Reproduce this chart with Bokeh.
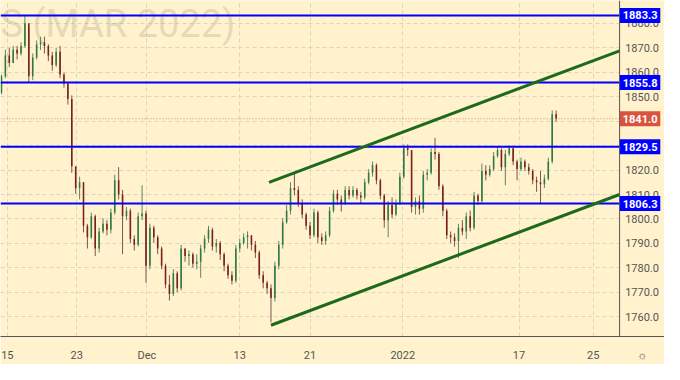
from bokeh.plotting import figure
from bokeh.models import Range1d, FixedTicker, Label, ColumnDataSource
from bokeh.core.properties import value
from bokeh.embed import file_html
from bokeh.resources import INLINE

# ---- data ----
first_open = 1851.8
close = [1858.4, 1866.9, 1863.8, 1869.2, 1867.7, 1870.8, 1880.1, 1858.4, 1866.1, 1871.5,
         1872.3, 1870.8, 1866.9, 1863.0, 1868.4, 1859.1, 1855.3, 1849.1, 1821.6, 1812.7,
         1815.0, 1797.2, 1792.5, 1801.1, 1787.9, 1794.9, 1798.0, 1795.6, 1802.6, 1815.8,
         1810.0, 1801.1, 1803.4, 1791.8, 1789.4, 1801.1, 1802.2, 1780.9, 1796.4, 1792.5,
         1787.9, 1780.9, 1773.2, 1769.3, 1777.8, 1771.6, 1787.9, 1784.8, 1785.6, 1781.7,
         1782.5, 1787.9, 1791.8, 1795.6, 1788.7, 1790.2, 1785.6, 1780.9, 1777.0, 1774.7,
         1787.9, 1790.2, 1792.5, 1793.3, 1789.4, 1786.3, 1777.0, 1773.9, 1771.6, 1767.7,
         1780.9, 1789.4, 1798.7, 1803.4, 1812.7, 1811.9, 1806.5, 1801.8, 1797.2, 1793.3,
         1802.6, 1792.5, 1791.0, 1793.3, 1803.4, 1810.3, 1808.0, 1806.5, 1811.9, 1809.6,
         1811.9, 1809.6, 1808.8, 1815.0, 1818.9, 1822.0, 1815.8, 1809.6, 1799.5, 1805.7,
         1801.8, 1806.5, 1817.3, 1828.9, 1828.2, 1804.9, 1807.3, 1804.2, 1818.1, 1818.9,
         1827.4, 1826.6, 1813.4, 1803.4, 1793.3, 1792.5, 1791.0, 1796.4, 1794.9, 1801.1,
         1796.4, 1809.6, 1807.3, 1819.6, 1818.1, 1820.4, 1825.8, 1828.2, 1821.2, 1826.6,
         1828.9, 1823.5, 1820.4, 1823.5, 1821.2, 1819.6, 1815.8, 1815.0, 1814.2, 1816.5,
         1823.5, 1842.9, 1841.0]
high = [1859.1, 1869.2, 1870.0, 1870.8, 1870.8, 1872.3, 1883.5, 1878.5, 1867.7, 1873.1,
        1874.6, 1874.6, 1871.5, 1868.4, 1870.0, 1870.8, 1859.9, 1856.1, 1850.6, 1821.2,
        1817.3, 1815.0, 1798.0, 1802.6, 1801.8, 1796.4, 1800.3, 1799.5, 1804.2, 1818.1,
        1821.2, 1811.9, 1804.9, 1804.2, 1793.3, 1802.6, 1813.8, 1803.4, 1798.0, 1797.2,
        1793.3, 1788.7, 1781.7, 1777.0, 1779.4, 1778.6, 1789.4, 1787.9, 1787.1, 1786.3,
        1785.6, 1789.4, 1793.3, 1797.2, 1796.4, 1791.8, 1791.0, 1786.3, 1781.7, 1778.6,
        1789.4, 1791.8, 1794.1, 1794.9, 1793.3, 1791.0, 1787.1, 1778.6, 1774.7, 1773.2,
        1782.5, 1791.0, 1800.3, 1805.7, 1815.0, 1818.5, 1813.4, 1808.0, 1802.6, 1798.7,
        1804.2, 1803.4, 1794.1, 1794.9, 1804.9, 1811.9, 1811.9, 1809.6, 1813.4, 1813.4,
        1813.4, 1812.7, 1811.1, 1816.5, 1820.4, 1823.5, 1822.7, 1816.5, 1810.3, 1807.3,
        1808.8, 1808.0, 1818.9, 1830.5, 1830.5, 1827.4, 1808.8, 1809.6, 1819.6, 1820.4,
        1828.9, 1833.2, 1827.4, 1814.2, 1804.2, 1794.9, 1794.1, 1798.0, 1799.5, 1802.6,
        1803.4, 1811.1, 1810.3, 1822.7, 1822.0, 1822.0, 1827.4, 1829.7, 1828.9, 1828.2,
        1830.1, 1828.9, 1824.3, 1825.1, 1824.3, 1822.7, 1820.4, 1817.3, 1819.6, 1818.1,
        1825.1, 1844.4, 1844.4]
low = [1851.0, 1857.6, 1862.2, 1863.8, 1865.3, 1866.9, 1870.0, 1856.1, 1856.8, 1865.3,
       1869.2, 1867.7, 1864.6, 1860.7, 1862.2, 1857.6, 1853.7, 1846.8, 1818.9, 1810.3,
       1808.0, 1794.5, 1787.9, 1791.8, 1784.8, 1786.3, 1794.1, 1793.3, 1794.1, 1801.8,
       1808.0, 1785.6, 1799.5, 1790.2, 1787.1, 1788.7, 1799.5, 1773.9, 1779.4, 1790.2,
       1785.6, 1779.4, 1771.6, 1766.6, 1768.5, 1770.1, 1770.8, 1782.5, 1780.9, 1780.1,
       1779.4, 1775.9, 1786.3, 1790.2, 1787.1, 1786.3, 1783.2, 1778.6, 1775.5, 1773.2,
       1773.9, 1786.3, 1789.4, 1787.9, 1787.1, 1784.0, 1775.5, 1771.6, 1769.3, 1757.7,
       1766.2, 1779.4, 1787.9, 1798.0, 1801.8, 1809.6, 1804.9, 1800.3, 1795.6, 1791.8,
       1792.5, 1790.2, 1789.4, 1789.4, 1792.5, 1802.6, 1805.7, 1803.0, 1805.7, 1808.0,
       1808.8, 1808.0, 1806.5, 1808.0, 1814.2, 1817.3, 1814.2, 1808.0, 1796.4, 1792.5,
       1800.3, 1801.1, 1805.7, 1816.5, 1825.8, 1802.6, 1801.8, 1801.8, 1802.6, 1815.8,
       1818.1, 1824.3, 1811.9, 1801.1, 1791.8, 1790.2, 1788.7, 1784.0, 1793.3, 1791.8,
       1794.9, 1795.6, 1805.7, 1806.5, 1815.8, 1817.3, 1819.6, 1825.1, 1819.6, 1813.8,
       1825.8, 1822.0, 1815.8, 1819.6, 1819.6, 1818.1, 1814.2, 1811.1, 1806.1, 1812.7,
       1815.8, 1822.7, 1839.8]

x_tick_pos = [1.5, 19.25, 37.25, 61.0, 79.0, 102.75, 132.5, 151.5]
x_tick_labels = ["15", "23", "Dec", "13", "21", "2022", "17", "25"]
y_ticks = [1760, 1770, 1780, 1790, 1800, 1810, 1820, 1830, 1840, 1850, 1860, 1870, 1880]

levels = [1883.3, 1855.8, 1829.5, 1806.3]
last_price = 1841.0
upper_x = [68.5, 158.25]
upper_y = [1815.0, 1868.8]
lower_x = [69.0, 158.25]
lower_y = [1756.5, 1810.0]
watermark = "S (MAR 2022)"

# ---- layout constants (x in bar units) ----
X0, X1 = -0.25, 169.75      # whole canvas width
AX = 158.25                 # price scale border
LAB_X = 164.0               # centre of price scale
Y0, Y1 = 1751.9, 1889.4
BG = "#FFF2CC"

# ---- derived table ----
opens = [first_open] + close[:-1]
idx = list(range(len(close)))
up = [c >= o for o, c in zip(opens, close)]
src_up = ColumnDataSource(dict(
    x=[i for i, u in zip(idx, up) if u],
    top=[max(o, c) for o, c, u in zip(opens, close, up) if u],
    bottom=[min(o, c) for o, c, u in zip(opens, close, up) if u]))
src_dn = ColumnDataSource(dict(
    x=[i for i, u in zip(idx, up) if not u],
    top=[max(o, c) for o, c, u in zip(opens, close, up) if not u],
    bottom=[min(o, c) for o, c, u in zip(opens, close, up) if not u]))
src_w = ColumnDataSource(dict(x=idx, high=high, low=low,
                              color=["#5d8468" if u else "#7d5550" for u in up]))

p = figure(width=664, height=364, output_backend="svg", toolbar_location=None,
           x_range=Range1d(X0, X1), y_range=Range1d(Y0, Y1),
           y_axis_location="right",
           min_border_left=0, min_border_top=0, min_border_right=0, min_border_bottom=24)
p.background_fill_color = BG
p.border_fill_color = BG
p.outline_line_color = None

# grids
p.ygrid.ticker = FixedTicker(ticks=y_ticks)
for g in (p.xgrid, p.ygrid):
    g.grid_line_color = "#DDD5BE"
    g.grid_line_dash = "4 3"
    g.grid_line_width = 1

# x axis (with the settings icon as last label)
gear_x = LAB_X
p.xaxis.ticker = FixedTicker(ticks=x_tick_pos + [gear_x])
ov = {k: v for k, v in zip(x_tick_pos, x_tick_labels)}
ov[gear_x] = "\u263C"
p.xaxis.major_label_overrides = ov
p.xaxis.axis_line_color = "#555555"
p.xaxis.major_tick_line_color = None
p.xaxis.minor_tick_line_color = None
p.xaxis.major_label_text_color = "#555555"
p.xaxis.major_label_text_font = "Roboto"
p.xaxis.major_label_text_font_size = "11px"
p.xaxis.major_label_standoff = 6
p.yaxis.visible = False

# watermark
p.add_layout(Label(x=0, y=313, x_units="screen", y_units="screen", text=watermark,
                   text_align="left", text_baseline="alphabetic", text_font="Roboto",
                   text_font_size="38px", text_color="#8c8570", text_alpha=0.24,
                   level="underlay"))

# cover the grid inside the price scale
p.quad(left=[AX], right=[X1], bottom=[Y0], top=[Y1], fill_color=BG, line_color=None)

# candles
p.segment(x0="x", y0="high", x1="x", y1="low", source=src_w, line_color="color", line_width=1)
p.vbar(x="x", top="top", bottom="bottom", width=0.4, source=src_up,
       fill_color="#2e7a45", line_color=None)
p.vbar(x="x", top="top", bottom="bottom", width=0.4, source=src_dn,
       fill_color="#7a1f1c", line_color=None)

# last price dotted line
p.segment(x0=[X0], y0=[last_price], x1=[AX], y1=[last_price], line_color="#E08A68",
          line_dash="1 2", line_width=1)

# horizontal levels
p.segment(x0=[X0] * len(levels), y0=levels, x1=[AX] * len(levels), y1=levels,
          line_color="#0000FF", line_width=2)

# channel
p.line(upper_x, upper_y, line_color="#1c6b1c", line_width=3)
p.line(lower_x, lower_y, line_color="#1c6b1c", line_width=3)

# price scale border
p.segment(x0=[AX], y0=[Y0], x1=[AX], y1=[Y1], line_color="#555555", line_width=1)

# price scale tick labels
p.text(x=[LAB_X] * len(y_ticks), y=y_ticks, text=[f"{v:.1f}" for v in y_ticks],
       text_align="center", text_baseline="middle", text_font=value("Roboto"),
       text_font_size="11px", text_color="#555555")

# price boxes
box_y = levels + [last_price]
box_c = ["#0000FF"] * len(levels) + ["#D9533F"]
p.rect(x=[(AX + 168.75) / 2] * len(box_y), y=box_y, width=168.75 - AX - 0.15, height=15,
       height_units="screen", fill_color=box_c, line_color=None)
p.text(x=[LAB_X - 0.5] * len(box_y), y=box_y, text=[f"{v:.1f}" for v in box_y],
       text_align="center", text_baseline="middle", text_font=value("Roboto"),
       text_font_style="bold", text_font_size="11px", text_color="white")

open("out.html", "w").write(file_html(p, INLINE))
